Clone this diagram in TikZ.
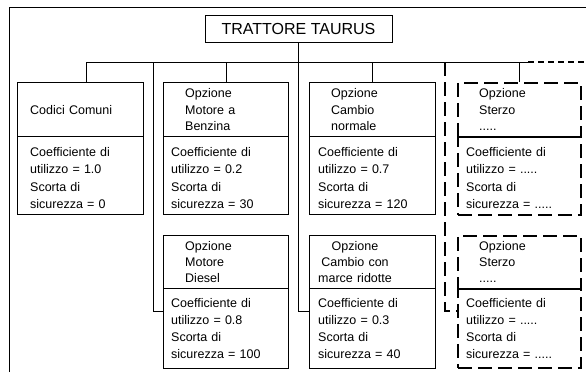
\documentclass[tikz,border=0pt]{standalone}
\usepackage{fontspec}
\setmainfont{Liberation Sans}
\begin{document}
\begin{tikzpicture}[x=1pt,y=-1pt,
  line/.style={line width=0.9pt},
  dline/.style={line width=1.5pt, dash pattern=on 14pt off 6pt},
  sdline/.style={line width=1.4pt, dash pattern=on 6pt off 4pt},
  part/.style={draw, line width=0.9pt, minimum width=126pt, inner sep=0pt, anchor=north west},
  dpart/.style={part, line width=1.8pt, dash pattern=on 14pt off 6pt},
  txt/.style={font=\fontsize{12.5}{16.7}\selectfont, text width=122pt, align=left, anchor=base west, inner sep=0pt},
  ctxt/.style={font=\fontsize{12.5}{16.5}\selectfont, text width=100pt, align=center, anchor=base, inner sep=0pt},
]
\useasboundingbox (0,0) rectangle (586,372);
% frame
\coordinate (fBL) at (9,372);
\coordinate (fTL) at (9,7);
\coordinate (fTR) at (586,7);
\draw[line] (fBL) -- (fTL) -- (fTR);
% title
\node[draw, line, minimum width=187pt, minimum height=27pt, inner sep=0pt,
      font=\fontsize{16}{19}\selectfont] (title) at (298.5,28.5) {TRATTORE TAURUS};
% bar
\coordinate (bL) at (86,62);
\coordinate (bR) at (528,62);
\coordinate (bE) at (586,62);
\coordinate (d2) at (153,62);
\coordinate (d4) at (445,62);
\draw[line] (bL) -- (bR);
\draw[sdline] (bR) -- (bE);
% row 1 boxes
\node[part, minimum height=54pt] (c1) at (17,82) {};
\node[part, minimum height=78pt] (c1b) at (17,136) {};
\node[part, minimum height=54pt, minimum width=125pt] (m1) at (163,82) {};
\node[part, minimum height=78pt, minimum width=125pt] (m1b) at (163,136) {};
\node[part, minimum height=54pt] (g1) at (309,82) {};
\node[part, minimum height=78pt] (g1b) at (309,136) {};
\node[dpart, minimum height=54pt, minimum width=123pt] (s1) at (457,82) {};
\node[dpart, minimum height=78pt, minimum width=123pt] (s1b) at (457,136) {};
% row 2 boxes
\node[part, minimum height=53pt, minimum width=125pt] (m2) at (163,235) {};
\node[part, minimum height=80pt, minimum width=125pt] (m2b) at (163,288) {};
\node[part, minimum height=53pt] (g2) at (309,235) {};
\node[part, minimum height=80pt] (g2b) at (309,288) {};
\node[dpart, minimum height=53pt, minimum width=123pt] (s2) at (457,235) {};
\node[dpart, minimum height=79pt, minimum width=123pt] (s2b) at (457,288) {};
% connectors
\draw[line] (bL) -- (bL |- c1.north);
\draw[line] (m1.north |- bL) -- (m1.north);
\draw[line] (g1.north |- bL) -- (g1.north);
\draw[line] (s1.north |- bL) -- (s1.north);
\draw[line] (d2) |- ([yshift=-23pt]m2b.north west);
\draw[line] (title.south) |- ([yshift=-23pt]g2b.north west);
\draw[dline] (d4) |- ([yshift=-23pt]s2b.north west);
% texts row 1
\node[txt] (t1) at (30,114.5) {Codici Comuni};
\node[txt] (t1b) at (30,156.5) {Coefficiente di\\utilizzo = 1.0\\[2pt]Scorta di\\sicurezza = 0};
\node[txt, font=\fontsize{12.5}{16.5}\selectfont] (t2) at (185,97.5) {Opzione\\Motore a\\Benzina};
\node[txt] (t2b) at (171,156.5) {Coefficiente di\\utilizzo = 0.2\\[2pt]Scorta di\\sicurezza = 30};
\node[txt, font=\fontsize{12.5}{16.5}\selectfont] (t3) at (331,97.5) {Opzione\\Cambio\\normale};
\node[txt] (t3b) at (318,156.5) {Coefficiente di\\utilizzo = 0.7\\[2pt]Scorta di\\sicurezza = 120};
\node[txt, font=\fontsize{12.5}{16.5}\selectfont] (t4) at (479,97.5) {Opzione\\Sterzo\\.....};
\node[txt] (t4b) at (466,156.5) {Coefficiente di\\utilizzo = .....\\[2pt]Scorta di\\sicurezza = .....};
% texts row 2
\node[txt, font=\fontsize{12.5}{16}\selectfont] (t5) at (185,250.5) {Opzione\\Motore\\Diesel};
\node[txt, font=\fontsize{12.5}{17}\selectfont] (t5b) at (171,307.5) {Coefficiente di\\utilizzo = 0.8\\Scorta di\\sicurezza = 100};
\node[ctxt, font=\fontsize{12.5}{16}\selectfont] (t6) at (355,250.5) {Opzione\\Cambio con\\marce ridotte};
\node[txt, font=\fontsize{12.5}{17}\selectfont] (t6b) at (318,307.5) {Coefficiente di\\utilizzo = 0.3\\Scorta di\\sicurezza = 40};
\node[txt, font=\fontsize{12.5}{16}\selectfont] (t7) at (479,250.5) {Opzione\\Sterzo\\.....};
\node[txt, font=\fontsize{12.5}{17}\selectfont] (t7b) at (466,307.5) {Coefficiente di\\utilizzo = .....\\Scorta di\\sicurezza = .....};
\end{tikzpicture}
\end{document}
